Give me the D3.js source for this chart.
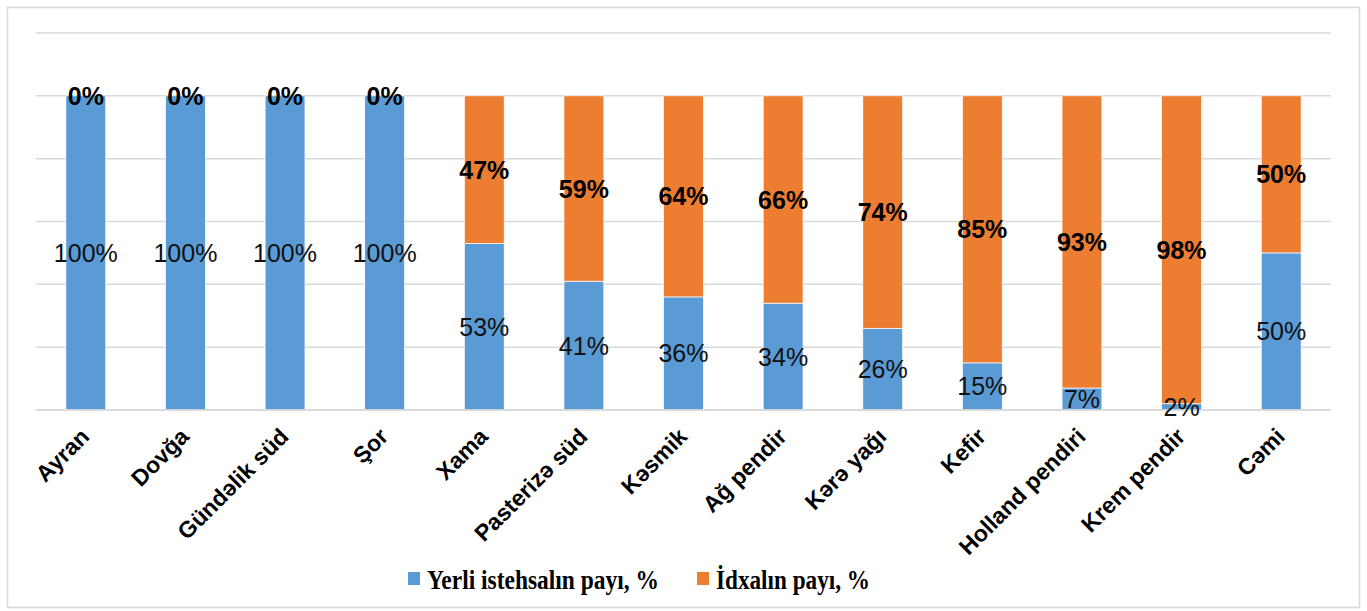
<!DOCTYPE html>
<html>
<head>
<meta charset="utf-8">
<script src="https://cdn.jsdelivr.net/npm/d3@7"></script>
<style>
  body { margin: 0; background: #fff; }
  svg { display: block; }
</style>
</head>
<body>
<svg id="chart"></svg>
<script>
var categories = ["Ayran", "Dovğa", "Gündəlik süd", "Şor", "Xama", "Pasterizə süd", "Kəsmik", "Ağ pendir", "Kərə yağı", "Kefir", "Holland pendiri", "Krem pendir", "Cəmi"]
var localShare = [100, 100, 100, 100, 53, 41, 36, 34, 26, 15, 7, 2, 50]
var importShare = [0, 0, 0, 0, 47, 59, 64, 66, 74, 85, 93, 98, 50]
var seriesNames = ["Yerli istehsalın payı, %", "İdxalın payı, %"]
var yTicks = [0, 20, 40, 60, 80, 100, 120]

var W = 1367, H = 611
var colors = ["#5b9bd5", "#ed7d31"]

var svg = d3.select("#chart").attr("width", W).attr("height", H)

// outer frame
svg.append("rect")
    .attr("x", 7.5).attr("y", 7.5)
    .attr("width", 1352).attr("height", 600)
    .attr("fill", "white")
    .style("stroke", "#d9d9d9")
    .style("stroke-width", "1.5px")

var x = d3.scaleBand()
    .domain(categories)
    .range([36, 1331])
    .paddingInner(0.6)
    .paddingOuter(0.3)

var y = d3.scaleLinear()
    .domain([0, 120])
    .range([410, 33])

// gridlines
svg.selectAll(".grid")
    .data(yTicks).enter()
    .append("line")
    .attr("x1", 36).attr("x2", 1331)
    .attr("y1", d => y(d)).attr("y2", d => y(d))
    .style("stroke", "#d9d9d9")
    .style("stroke-width", "1.5px")

var rows = categories.map((c, i) => ({cat: c, local: localShare[i], imp: importShare[i]}))
var stacked = d3.stack().keys(["local", "imp"])(rows)

var groups = svg.selectAll(".series")
    .data(stacked).enter()
    .append("g")
    .attr("fill", (d, i) => colors[i])

groups.selectAll("rect")
    .data(d => d).enter()
    .append("rect")
    .attr("x", d => x(d.data.cat))
    .attr("y", d => y(d[1]))
    .attr("width", x.bandwidth())
    .attr("height", d => y(d[0]) - y(d[1]))
    .style("stroke", "white")
    .style("stroke-width", "0.7px")

// redraw baseline on top
svg.append("line")
    .attr("x1", 36).attr("x2", 1331)
    .attr("y1", y(0)).attr("y2", y(0))
    .style("stroke", "#d9d9d9")
    .style("stroke-width", "1.5px")

// local labels (regular)
svg.selectAll(".lblLocal")
    .data(rows).enter()
    .append("text")
    .attr("x", d => x(d.cat) + x.bandwidth() / 2)
    .attr("y", d => y(d.local / 2))
    .attr("dy", "0.36em")
    .attr("text-anchor", "middle")
    .style("font-family", "Arial, 'Liberation Sans', sans-serif")
    .style("font-size", "25px")
    .style("fill", "#111")
    .text(d => d.local + "%")

// import labels (bold)
svg.selectAll(".lblImp")
    .data(rows).enter()
    .append("text")
    .attr("x", d => x(d.cat) + x.bandwidth() / 2)
    .attr("y", d => y(d.local + d.imp / 2))
    .attr("dy", "0.36em")
    .attr("text-anchor", "middle")
    .style("font-family", "Arial, 'Liberation Sans', sans-serif")
    .style("font-size", "25px")
    .style("font-weight", "bold")
    .style("fill", "#000")
    .text(d => d.imp + "%")

// category labels
svg.selectAll(".cat")
    .data(categories).enter()
    .append("text")
    .attr("transform", d => "translate(" + (x(d) + x.bandwidth() / 2 + 5) + "," + 438 + ") rotate(-45)")
    .attr("text-anchor", "end")
    .style("font-family", "Arial, 'Liberation Sans', sans-serif")
    .style("font-size", "23px")
    .style("font-weight", "bold")
    .style("fill", "#000")
    .text(d => d)

// legend
var legend = [{x: 408, w: 232, name: seriesNames[0], c: colors[0]}, {x: 697, w: 154, name: seriesNames[1], c: colors[1]}]
var lg = svg.selectAll(".legend")
    .data(legend).enter()
    .append("g")
    .attr("transform", d => "translate(" + d.x + ",571)")
lg.append("rect")
    .attr("width", 12).attr("height", 13)
    .attr("y", 1)
    .attr("fill", d => d.c)
lg.append("text")
    .attr("x", 19)
    .attr("y", 18)
    .attr("textLength", d => d.w)
    .attr("lengthAdjust", "spacingAndGlyphs")
    .style("font-family", "'Times New Roman', 'Liberation Serif', serif")
    .style("font-size", "28px")
    .style("font-weight", "bold")
    .style("fill", "#000")
    .text(d => d.name)
</script>
</body>
</html>
